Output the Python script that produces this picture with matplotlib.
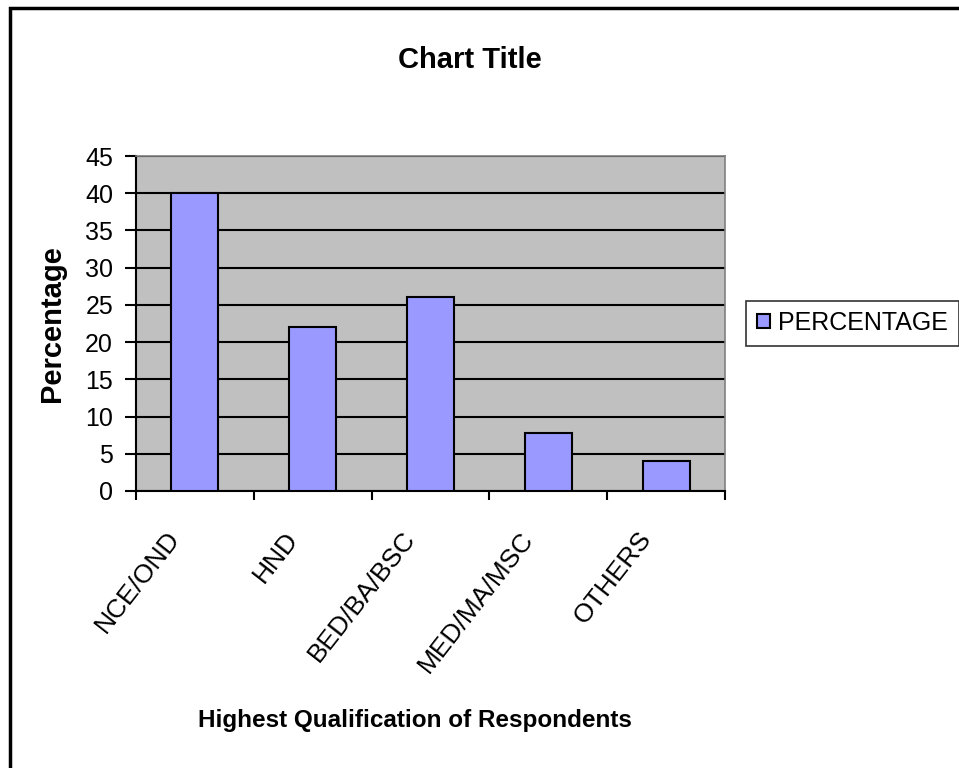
import matplotlib
matplotlib.use("Agg")
import matplotlib.pyplot as plt
import matplotlib.transforms as mtransforms
from matplotlib.patches import Rectangle
import numpy as np

plt.rcParams['font.family'] = ['Liberation Sans', 'DejaVu Sans']

#### data ##########################################
categories = ['NCE/OND', 'HND', 'BED/BA/BSC', 'MED/MA/MSC', 'OTHERS']
percentage = [40, 22, 26, 7.8, 4]
y_ticks = [0, 5, 10, 15, 20, 25, 30, 35, 40, 45]

W, H = 959, 768
fig = plt.figure(figsize=(W / 100, H / 100), dpi=100)
ax = fig.add_axes([136 / W, 1 - 491 / H, (725 - 136) / W, (491 - 156) / H])

x = np.arange(len(categories))
ax.bar(x, percentage, width=0.4, color='#9999FF', edgecolor='black',
       linewidth=1.5, label='PERCENTAGE', zorder=3)

ax.set_facecolor('#C0C0C0')
ax.set_xlim(-0.5, len(categories) - 0.5)
ax.set_ylim(0, 45)
ax.set_yticks(y_ticks)
ax.yaxis.grid(True, color='black', linewidth=1.5, zorder=1)
ax.set_axisbelow(True)
ax.tick_params(axis='y', labelsize=18, length=8, width=1.5, direction='out', pad=8.5)

# x ticks at category boundaries, labels drawn separately
ax.set_xticks(np.arange(len(categories) + 1) - 0.5)
ax.set_xticklabels([])
ax.tick_params(axis='x', length=6.5, width=1.5, direction='out')

for s in ['left', 'bottom']:
    ax.spines[s].set_color('black')
    ax.spines[s].set_linewidth(1.5)
for s in ['top', 'right']:
    ax.spines[s].set_color('#808080')
    ax.spines[s].set_linewidth(1.2)

trans = mtransforms.blended_transform_factory(ax.transData, ax.transAxes)
off = mtransforms.ScaledTranslation(-10 / 100, -36 / 100, fig.dpi_scale_trans)
for i, c in enumerate(categories):
    ax.text(i, 0, c, rotation=52, ha='right', va='top', fontsize=19,
            transform=trans + off)

fig.text(470 / W, 1 - 60 / H, 'Chart Title', ha='center', va='center',
         fontsize=21, fontweight='bold')
fig.text(52 / W, 1 - 324 / H, 'Percentage', ha='center', va='center',
         rotation=90, fontsize=21, fontweight='bold')
fig.text(415 / W, 1 - 720 / H, 'Highest Qualification of Respondents',
         ha='center', va='center', fontsize=17.5, fontweight='bold')

leg = fig.legend(loc='center left', bbox_to_anchor=(746 / W, 1 - 323 / H),
                 fontsize=18, fancybox=False, edgecolor='black',
                 handlelength=0.52, handleheight=0.52, handletextpad=0.36,
                 borderpad=0.42, borderaxespad=0)
leg.get_frame().set_linewidth(1.2)

# outer chart border
fig.patches.append(Rectangle((10 / W, -0.05), 1.2, 1 - 8 / H + 0.05,
                             transform=fig.transFigure, fill=False,
                             edgecolor='black', linewidth=2.5))

fig.savefig('out.png', dpi=100)
